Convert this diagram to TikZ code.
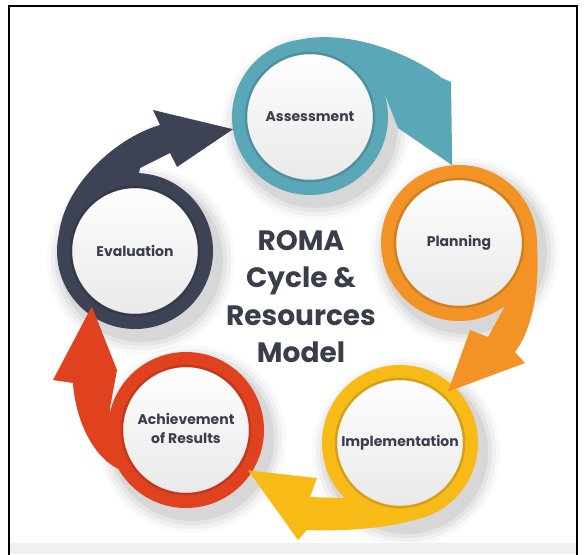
\documentclass[tikz,border=0pt]{standalone}
\usepackage{fontspec}
\setsansfont{Poppins}
\usepackage{tikz}
\usetikzlibrary{positioning,backgrounds,calc}
\definecolor{romateal}{HTML}{5AA7B7}
\definecolor{romaorange}{HTML}{F39325}
\definecolor{romayellow}{HTML}{F8BA16}
\definecolor{romared}{HTML}{E0411F}
\definecolor{romadark}{HTML}{3D4254}
\definecolor{romatext}{HTML}{3A3E4B}

\begin{document}
\begin{tikzpicture}[
    x=1pt, y=-1pt,
    node distance=2cm,
    font=\bfseries\sffamily,
    stage/.style={
		circle,
		draw=#1,
		line width=15pt,
		minimum size=141pt,
		inner sep=0pt,
		outer sep=7.5pt,
		top color=white,
		bottom color=black!9,
		text=romatext,
		font=\bfseries\sffamily\fontsize{14}{19}\selectfont
	},
	title/.style={
		inner sep=0pt,
		text=romatext,
		font=\bfseries\sffamily\fontsize{28}{37.5}\selectfont
	},
	rim/.style={
		draw=#1!70!black,
		line width=2.5pt,
		opacity=0.45
	}
  ]
  \useasboundingbox (0,0) rectangle (585,554);

    % We start by placing the circles

  \node [stage=romateal] (assess) at (310,117) {Assessment};

  \node [stage=romaorange, below of=assess, node distance=126pt, xshift=149pt] (plan) {Planning};

  \node [stage=romayellow, below of=assess, node distance=326pt, xshift=90pt] (impl) {Implementation};

  \node [stage=romared, below of=assess, node distance=313pt, xshift=-124pt] (achv)
 {%
 \begin{tabular}{c}
  Achievement\\
  of Results
 \end{tabular}
 };

  \node [stage=romadark, below of=assess, node distance=134pt, xshift=-175pt] (eval) {Evaluation};

  \node [title, below of=assess, node distance=182pt, xshift=-9pt] (model)
 {%
 \begin{tabular}{c}
  ROMA\\
  Cycle \&\\
  Resources\\
  Model
 \end{tabular}
 };

 \foreach \n/\c in {assess/romateal, plan/romaorange, impl/romayellow, achv/romared, eval/romadark}
   \draw [rim=\c] (\n.center) circle (64);

    % the arrows, each one leaves its ring and points at the next

 \fill [romateal] (assess.97) .. controls (345,30) and (405,50) .. (442,78)
   -- (451,82) -- (plan.95) -- (398,128) -- (assess.18) -- (assess.57) -- cycle;

 \fill [romaorange] (plan.0) .. controls (540,290) and (532,330) .. (515,352)
   -- (525,363) -- ($(impl.center)!.9!(impl.47)$) -- (470,330) -- (488,337)
   -- (plan.-54) -- (plan.-27) -- cycle;

 \fill [romayellow] (impl.-54) .. controls (420,525) and (360,532) .. (307,530)
   -- (298,540) -- ($(achv.center)!.95!(achv.-33)$) -- (317,478) -- (310,497)
   -- (impl.-135) -- (impl.-95) -- cycle;

 \fill [romared] (achv.-150) .. controls (90,455) and (75,415) .. (73,383)
   -- (53,380) -- ($(eval.center)!.9!(eval.-128)$) -- (117,370) -- (110,408)
   -- (achv.166) -- (achv.-172) -- cycle;

 \fill [romadark] (eval.167) .. controls (65,185) and (115,138) .. (160,125)
   -- (153,110) -- (assess.189) -- (177,167) -- (170,153) -- (140,168)
   -- (eval.87) -- (eval.127) -- cycle;

 \begin{scope}[on background layer]
   \fill [white] (0,0) rectangle (585,554);
   \foreach \n in {assess,plan,impl,achv,eval}
     \foreach \r/\o in {94/0.025, 90/0.035, 86/0.045, 82/0.06}
       \fill [black, opacity=\o] ($(\n.center)+(6,9)$) circle (\r);
 \end{scope}

 % frame
 \fill [black!6] (9,543) rectangle (577,554);
 \draw [line width=1.6pt] (9,560) |- (577,6) -- (577,560);

\end{tikzpicture}
\end{document}
